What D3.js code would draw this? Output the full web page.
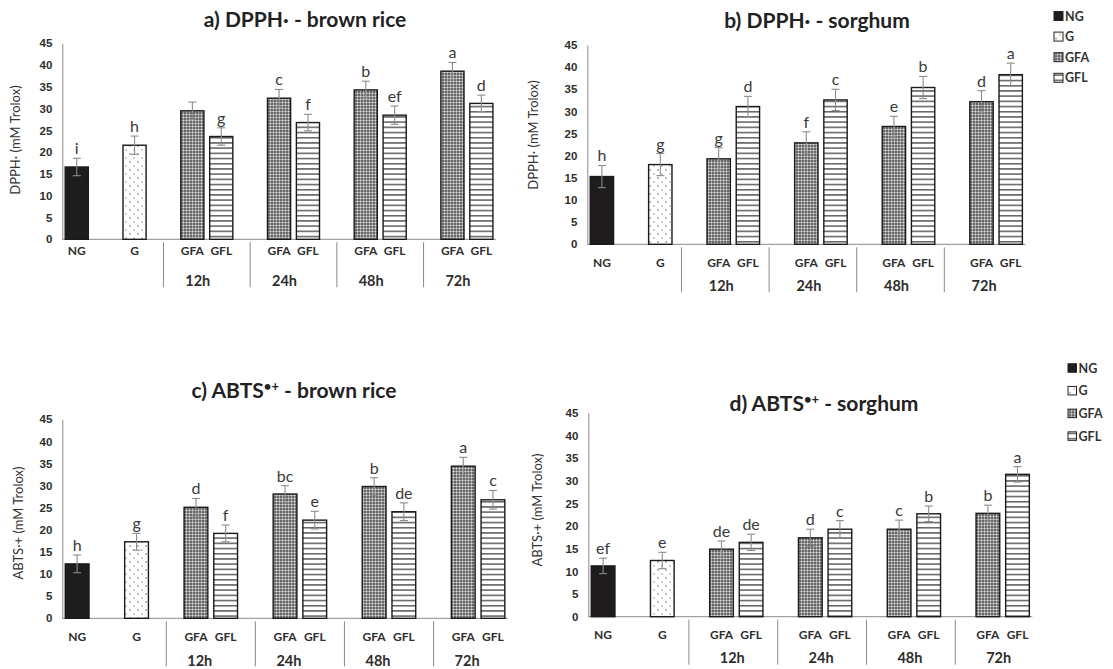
<!DOCTYPE html>
<html>
<head>
<meta charset="utf-8">
<script src="https://cdn.jsdelivr.net/npm/d3@7"></script>
<style>
  body { margin: 0; background: #fff; }
  svg { display: block; font-family: Lato, "Open Sans", sans-serif; }
  .tick text { font-weight: bold; font-size: 11.5px; fill: #2e2e2e; }
</style>
</head>
<body>
<svg id="chart" width="1113" height="669"></svg>
<script>
// series + time points
const seriesNames = ["NG", "G", "GFA", "GFL"];
const timeLabels = ["12h", "24h", "48h", "72h"];
const yTicks = [0, 5, 10, 15, 20, 25, 30, 35, 40, 45];

// values in bar order: NG, G, GFA12, GFL12, GFA24, GFL24, GFA48, GFL48, GFA72, GFL72
const dpphRice = [16.6, 21.6, 29.5, 23.6, 32.4, 26.8, 34.3, 28.5, 38.6, 31.2];
const dpphRiceSd = [2.0, 2.1, 2.0, 2.0, 2.0, 1.9, 2.0, 2.1, 2.0, 1.9];
const dpphRiceLet = ["i", "h", "", "g", "c", "f", "b", "ef", "a", "d"];

const dpphSorg = [15.3, 18.0, 19.3, 31.1, 22.9, 32.6, 26.6, 35.4, 32.2, 38.3];
const dpphSorgSd = [2.5, 2.5, 2.5, 2.3, 2.5, 2.4, 2.3, 2.5, 2.5, 2.6];
const dpphSorgLet = ["h", "g", "g", "d", "f", "c", "e", "b", "d", "a"];

const abtsRice = [12.3, 17.3, 25.1, 19.2, 28.1, 22.2, 29.8, 24.1, 34.4, 26.8];
const abtsRiceSd = [2.0, 1.9, 2.0, 1.9, 1.9, 2.0, 2.0, 2.0, 2.0, 2.1];
const abtsRiceLet = ["h", "g", "d", "f", "bc", "e", "b", "de", "a", "c"];

const abtsSorg = [11.2, 12.4, 14.9, 16.4, 17.4, 19.3, 19.3, 22.7, 22.8, 31.4];
const abtsSorgSd = [1.7, 1.8, 1.8, 1.8, 1.9, 1.9, 2.0, 1.7, 1.8, 1.7];
const abtsSorgLet = ["ef", "e", "de", "de", "d", "c", "c", "b", "b", "a"];

const panels = [
  { pre: "a) DPPH· - brown rice", sup: "", post: "", yLabel: "DPPH· (mM Trolox)",
    mean: dpphRice, sd: dpphRiceSd, letters: dpphRiceLet,
    left: 62.3, right: 495.8, base: 239.3, top: 43.3, tx: 305, ty: 27, lx: 15, ly: 140,
    row1: 11, row2: 41, sep: 0, shift: -9 },
  { pre: "b) DPPH· - sorghum", sup: "", post: "", yLabel: "DPPH· (mM Trolox)",
    mean: dpphSorg, sd: dpphSorgSd, letters: dpphSorgLet,
    left: 587.3, right: 1025.3, base: 244.3, top: 45, tx: 817, ty: 28, lx: 533, ly: 135,
    row1: 18, row2: 41, sep: -8, shift: -12 },
  { pre: "c) ABTS", sup: "•+", post: " - brown rice", yLabel: "ABTS·+ (mM Trolox)",
    mean: abtsRice, sd: abtsRiceSd, letters: abtsRiceLet,
    left: 62.3, right: 507.8, base: 618.3, top: 419.3, tx: 294, ty: 398, lx: 18, ly: 523,
    row1: 18, row2: 42.5, sep: 0, shift: -11 },
  { pre: "d) ABTS", sup: "•+", post: " - sorghum", yLabel: "ABTS·+ (mM Trolox)",
    mean: abtsSorg, sd: abtsSorgSd, letters: abtsSorgLet,
    left: 588.3, right: 1032.3, base: 616.7, top: 412.7, tx: 824, ty: 411, lx: 537, ly: 510,
    row1: 18, row2: 41, sep: -3, shift: -4 }
];

const legends = [
  { x: 1054, y: 16, step: 20.6, size: 9 },
  { x: 1068, y: 368, step: 22.7, size: 8.5 }
];

const svg = d3.select("#chart");
const defs = svg.append("defs");

// G : sparse dots
const pDots = defs.append("pattern").attr("id", "p-G").attr("patternUnits", "userSpaceOnUse")
  .attr("width", 8).attr("height", 8);
pDots.append("rect").attr("width", 8).attr("height", 8).attr("fill", "#fff");
pDots.append("circle").attr("cx", 2).attr("cy", 2).attr("r", 0.7).attr("fill", "#444");
pDots.append("circle").attr("cx", 6).attr("cy", 6).attr("r", 0.7).attr("fill", "#777");

// GFA : fine grey mesh
const pMesh = defs.append("pattern").attr("id", "p-GFA").attr("patternUnits", "userSpaceOnUse")
  .attr("width", 3).attr("height", 3);
pMesh.append("rect").attr("width", 3).attr("height", 3).attr("fill", "#666");
pMesh.append("rect").attr("width", 3).attr("height", 1).attr("fill", "#a8a8a8");
pMesh.append("rect").attr("width", 1).attr("height", 3).attr("fill", "#a8a8a8");
pMesh.append("rect").attr("width", 1).attr("height", 1).attr("fill", "#d4d4d4");

// GFL : horizontal lines
const pLines = defs.append("pattern").attr("id", "p-GFL").attr("patternUnits", "userSpaceOnUse")
  .attr("width", 6).attr("height", 5.2);
pLines.append("rect").attr("width", 6).attr("height", 5.2).attr("fill", "#fff");
pLines.append("rect").attr("y", 2).attr("width", 6).attr("height", 1.1).attr("fill", "#222");

const fillOf = s => s === "NG" ? "#1e1c1d" : `url(#p-${s})`;

function buildGroups() {
  const groups = [{ name: "NG", series: ["NG"] }, { name: "G", series: ["G"] }];
  timeLabels.forEach(t => groups.push({ name: t, series: ["GFA", "GFL"], time: true }));
  return groups;
}

function drawPanel(p) {
  const groups = buildGroups();
  const bars = [];
  const slots = [];
  groups.forEach((g, gi) => {
    g.series.forEach(s => {
      const i = bars.length;
      const key = g.name + "-" + s;
      bars.push({ key, series: s, group: g.name, value: p.mean[i], sd: p.sd[i], letter: p.letters[i] });
      slots.push(key);
    });
    if (gi < groups.length - 1) slots.push("gap" + gi);
  });

  const x = d3.scaleBand().domain(slots).range([p.left, p.right])
    .paddingInner(0.2).paddingOuter(0.1);
  const y = d3.scaleLinear().domain([0, 45]).range([p.base, p.top]);
  const g = svg.append("g");

  // title
  const t = g.append("text").attr("x", p.tx).attr("y", p.ty).attr("text-anchor", "middle")
    .attr("font-size", 21).attr("font-weight", "bold").attr("fill", "#222");
  t.append("tspan").text(p.pre);
  if (p.sup) {
    t.append("tspan").attr("dy", -7).attr("font-size", 13).text(p.sup);
    t.append("tspan").attr("dy", 7).text(p.post);
  }

  // y axis
  const ya = g.append("g").attr("transform", `translate(${p.left},0)`)
    .call(d3.axisLeft(y).tickValues(yTicks).tickSize(0).tickPadding(10).tickSizeOuter(0));
  ya.select(".domain").attr("stroke", "#8a8a8a");

  g.append("text")
    .attr("transform", `translate(${p.lx},${p.ly}) rotate(-90)`)
    .attr("text-anchor", "middle").attr("dominant-baseline", "central")
    .attr("font-size", 13).attr("fill", "#333").text(p.yLabel);

  // baseline
  g.append("line").attr("x1", p.left).attr("x2", p.right)
    .attr("y1", y(0)).attr("y2", y(0)).attr("stroke", "#8a8a8a");

  // bars
  g.selectAll("rect.bar").data(bars).join("rect").attr("class", "bar")
    .attr("x", d => x(d.key)).attr("width", x.bandwidth())
    .attr("y", d => y(d.value)).attr("height", d => y(0) - y(d.value))
    .attr("fill", d => fillOf(d.series)).attr("stroke", "#1a1a1a").attr("stroke-width", 1.4);

  // error bars
  const eb = g.selectAll("g.err").data(bars).join("g").attr("class", "err")
    .attr("stroke", "#8c8c8c").attr("stroke-width", 1.1);
  const cx = d => x(d.key) + x.bandwidth() / 2;
  eb.append("line").attr("x1", cx).attr("x2", cx)
    .attr("y1", d => y(d.value - d.sd)).attr("y2", d => y(d.value + d.sd));
  eb.append("line").attr("x1", d => cx(d) - 4).attr("x2", d => cx(d) + 4)
    .attr("y1", d => y(d.value + d.sd)).attr("y2", d => y(d.value + d.sd));
  eb.append("line").attr("x1", d => cx(d) - 4).attr("x2", d => cx(d) + 4)
    .attr("y1", d => y(d.value - d.sd)).attr("y2", d => y(d.value - d.sd));

  // significance letters
  g.selectAll("text.letter").data(bars).join("text").attr("class", "letter")
    .attr("x", cx).attr("y", d => y(d.value + d.sd) - 4)
    .attr("text-anchor", "middle").attr("font-size", 16).attr("fill", "#3a3a3a")
    .text(d => d.letter);

  // category labels (row 1)
  g.selectAll("text.cat").data(bars).join("text").attr("class", "cat")
    .attr("x", cx).attr("y", y(0) + p.row1).attr("dominant-baseline", "central")
    .attr("text-anchor", "middle").attr("font-size", 12).attr("font-weight", "bold")
    .attr("fill", "#2e2e2e").text(d => d.series);

  // time labels (row 2)
  const timeGroups = groups.filter(d => d.time);
  g.selectAll("text.time").data(timeGroups).join("text").attr("class", "time")
    .attr("x", d => (x(d.name + "-GFA") + x(d.name + "-GFL") + x.bandwidth()) / 2 + p.shift)
    .attr("y", y(0) + p.row2).attr("dominant-baseline", "central")
    .attr("text-anchor", "middle").attr("font-size", 14.5).attr("font-weight", "bold")
    .attr("fill", "#2e2e2e").text(d => d.name);

  // group separators
  const seps = slots.filter(s => s.startsWith("gap") && s !== "gap0");
  g.selectAll("line.sep").data(seps).join("line").attr("class", "sep")
    .attr("x1", s => x(s) + x.bandwidth() / 2 + p.sep).attr("x2", s => x(s) + x.bandwidth() / 2 + p.sep)
    .attr("y1", y(0) + 3).attr("y2", y(0) + 48).attr("stroke", "#8a8a8a");
}

panels.forEach(drawPanel);

function drawLegend(l) {
  const g = svg.append("g");
  const rows = g.selectAll("g").data(seriesNames).join("g")
    .attr("transform", (d, i) => `translate(${l.x},${l.y + i * l.step})`);
  rows.append("rect").attr("x", 0).attr("y", -l.size / 2).attr("width", l.size).attr("height", l.size)
    .attr("fill", d => fillOf(d)).attr("stroke", "#222").attr("stroke-width", 1);
  rows.append("text").attr("x", l.size + 2).attr("dominant-baseline", "central")
    .attr("font-size", 12.5).attr("font-weight", "bold").attr("fill", "#333").text(d => d);
}
legends.forEach(drawLegend);
</script>
</body>
</html>
